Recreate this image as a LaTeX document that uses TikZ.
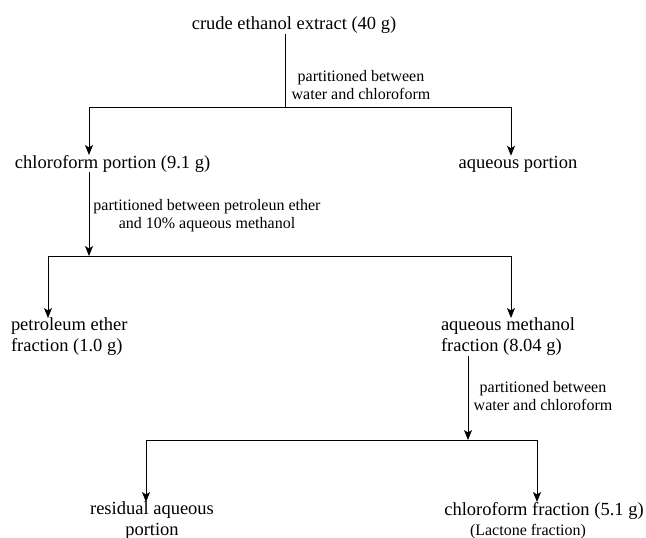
\documentclass[tikz,border=0pt]{standalone}
\usepackage{fontspec}
\setmainfont{Liberation Serif}
\usetikzlibrary{positioning, arrows.meta}
\tikzset{
	every node/.append style={
		inner sep=0pt,
		outer sep=0pt,
	},
	stage/.append style={
		font=\fontsize{18.5}{21}\selectfont,
	},
	note/.append style={
		align=center,
		font=\fontsize{16}{18}\selectfont,
	},
	flow/.append style={
		-{Stealth[length=10pt, width=8pt, inset=2.5pt]},
		line width=0.9pt,
	},
	branch/.append style={
		line width=0.9pt,
	}
}

\begin{document}
\begin{tikzpicture}[x=1pt, y=-1pt]
	\useasboundingbox (0,0) rectangle (646,538);
	
	\node[stage, anchor=base] (crude) at (294,30) {crude ethanol extract (40 g)};
	\node[note, anchor=north] (part1) at (361,70) {partitioned between\\water and chloroform};
	\node[stage, anchor=base west] (chl) at (15,168) {chloroform portion (9.1 g)};
	\node[stage, anchor=base] (aq) at (518,168) {aqueous portion};
	% second partition
	\node[note, anchor=north] (part2) at (207,199) {partitioned between petroleun ether\\and 10\% aqueous methanol};
	\node[stage, anchor=north west, align=left] (pet) at (11,318) {petroleum ether\\fraction (1.0 g)};
	\node[stage, anchor=north west, align=left] (aqm) at (441,318) {aqueous methanol\\fraction (8.04 g)};
	% third partition
	\node[note, anchor=north] (part3) at (543,381) {partitioned between\\water and chloroform};
	\node[stage, anchor=north, align=center] (res) at (152,502) {residual aqueous\\portion};
	\node[stage, anchor=base] (chf) at (544,515) {chloroform fraction (5.1 g)};
	\node[note, anchor=base] (lac) at (528,535) {(Lactone fraction)};
	
	\coordinate (s1) at (285,107);
	\coordinate (s1l) at (89,107);
	\coordinate (s1r) at (511,107);
	\coordinate (s2) at (89,256);
	\coordinate (s2l) at (48,256);
	\coordinate (s2r) at (511,256);
	\coordinate (s3) at (468,440);
	\coordinate (s3l) at (146,440);
	\coordinate (s3r) at (537,440);
	
	\draw[branch] (crude.south -| s1) -- (s1);
	\draw[branch] (s1l) -- (s1r);
	\draw[flow] (s1l) -- (s1l |- chl.north);
	\draw[flow] (s1r) -- (s1r |- aq.north);
	
	\draw[flow] (s1l |- chl.south) -- (s2);
	\draw[branch] (s2l) -- (s2r);
	\draw[flow] (s2l) -- (s2l |- pet.north);
	\draw[flow] (s2r) -- (s2r |- aqm.north);
	
	\draw[flow] (s3 |- aqm.south) -- (s3);
	\draw[branch] (s3l) -- (s3r);
	\draw[flow] (s3l) -- (s3l |- res.north);
	\draw[flow] (s3r) -- (s3r |- chf.north);
	
\end{tikzpicture}
\end{document}
